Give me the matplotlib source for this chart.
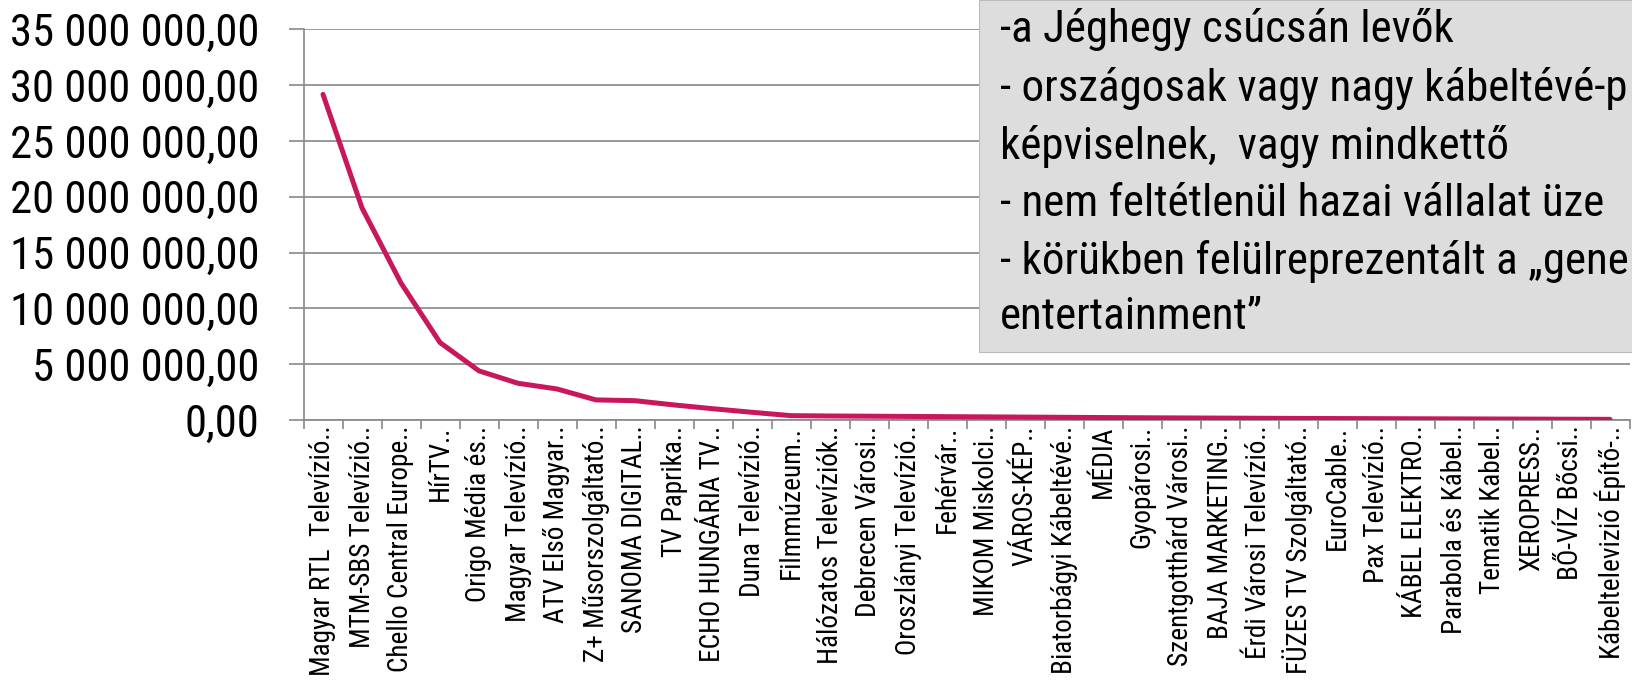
"""
Iceberg chart: revenue of Hungarian TV providers, sorted, with a note box.
"""

import matplotlib
matplotlib.use("Agg")
import matplotlib.pyplot as plt
from matplotlib import font_manager
from matplotlib.ticker import FuncFormatter, FixedLocator
from matplotlib.patches import Rectangle

# the original uses Arial Narrow; take a narrow face if there is one
names = {f.name for f in font_manager.fontManager.ttflist}
font = "Liberation Sans"
for cand in ["Liberation Sans Narrow", "Arial Narrow", "Roboto Condensed", "Open Sans Condensed"]:
    if cand in names:
        font = cand
        break
plt.rcParams["font.family"] = [font, "DejaVu Sans"]

labels = [
    "Magyar RTL  Televízió..", "MTM-SBS Televízió..", "Chello Central Europe..",
    "HírTV..", "Origo Média és..", "Magyar Televízió..", "ATV Első Magyar..",
    "Z+ Műsorszolgáltató..", "SANOMA DIGITAL..", "TV Paprika..",
    "ECHO HUNGÁRIA TV..", "Duna Televízió..", "Filmmúzeum..",
    "Hálózatos Televíziók..", "Debrecen Városi..", "Oroszlányi Televízió..",
    "Fehérvár..", "MIKOM Miskolci..", "VÁROS-KÉP..", "Biatorbágyi Kábeltévé..",
    "MÉDIA", "Gyopárosi..", "Szentgotthárd Városi..", "BAJA MARKETING..",
    "Érdi Városi Televízió..", "FÜZES TV Szolgáltató..", "EuroCable..",
    "Pax Televízió..", "KÁBEL ELEKTRO..", "Parabola és Kábel..",
    "Tematik Kabel..", "XEROPRESS..", "BŐ-VÍZ Bőcsi..", "Kábeltelevizió Építő-..",
]

revenue = [
    29170000, 19000000, 12270000, 6940000, 4400000, 3290000, 2780000,
    1800000, 1730000, 1350000, 1010000, 690000, 390000, 360000, 340000,
    320000, 300000, 280000, 260000, 240000, 220000, 200000, 185000,
    170000, 155000, 140000, 130000, 120000, 110000, 100000, 90000,
    80000, 70000, 60000,
]

y_ticks = [0, 5e6, 10e6, 15e6, 20e6, 25e6, 30e6, 35e6]

# the box runs off the slide in the original, only the visible part is kept
note_lines = [
    "-a Jéghegy csúcsán levők",
    "- országosak vagy nagy kábeltévé-p",
    "képviselnek,  vagy mindkettő",
    "- nem feltétlenül hazai vállalat üze",
    "- körükben felülreprezentált a „gene",
    "entertainment”",
]
note_baselines = [42, 101, 159, 216, 274, 329]  # pixel rows from top

W, H = 1632, 680
fig = plt.figure(figsize=(W / 100, H / 100), dpi=100)
renderer = fig.canvas.get_renderer()


def fit_size(text, target_px):
    # font size that gives the text the width it has in the original
    t = fig.text(0, 0, text, fontsize=10)
    w = t.get_window_extent(renderer).width
    t.remove()
    return 10 * target_px / w


ytick_size = fit_size("35 000 000,00", 247)
xtick_size = fit_size("Magyar RTL  Televízió..", 250)
note_size = fit_size("-a Jéghegy csúcsán levők", 452)

ax = fig.add_axes([303.5 / W, 1 - 420 / H, (1629.5 - 303.5) / W, (420 - 29.3) / H])

x = list(range(len(revenue)))
ax.plot(x, revenue, color="#C8175D", lw=3.6, solid_capstyle="round", zorder=3)

grid = "#888888"
ax.set_xlim(-0.5, len(labels) - 0.5)
ax.set_ylim(0, 35e6)
ax.set_yticks(y_ticks)
ax.yaxis.set_major_formatter(FuncFormatter(
    lambda v, p: f"{v:,.2f}".replace(",", " ").replace(".", ",")))
ax.grid(axis="y", color=grid, lw=1.2)
ax.set_axisbelow(True)

# category boundaries as major ticks, labels on the centers
ax.xaxis.set_major_locator(FixedLocator([i - 0.5 for i in range(len(labels) + 1)]))
ax.xaxis.set_major_formatter(FuncFormatter(lambda v, p: ""))
ax.xaxis.set_minor_locator(FixedLocator(x))
ax.set_xticklabels(labels, minor=True, rotation=90, fontsize=xtick_size)
ax.tick_params(axis="x", which="major", length=6.5, width=1.2, color=grid)
ax.tick_params(axis="x", which="minor", length=0, pad=4)
ax.tick_params(axis="y", length=10.8, width=1.2, color=grid, labelsize=ytick_size, pad=21)

for s in ["top", "right"]:
    ax.spines[s].set_visible(False)
for s in ["left", "bottom"]:
    ax.spines[s].set_color(grid)
    ax.spines[s].set_linewidth(1.2)

# note box in the upper right
fig.patches.append(Rectangle((979 / W, 1 - 352 / H), 1 - 979 / W, 352 / H,
                             transform=fig.transFigure, facecolor="#DDDDDD",
                             edgecolor="#BBBBBB", lw=0.8, zorder=5))
for line, yb in zip(note_lines, note_baselines):
    fig.text(1000 / W, 1 - yb / H, line, fontsize=note_size, va="baseline",
             ha="left", color="black", zorder=6)

fig.savefig("out.png", dpi=100)
